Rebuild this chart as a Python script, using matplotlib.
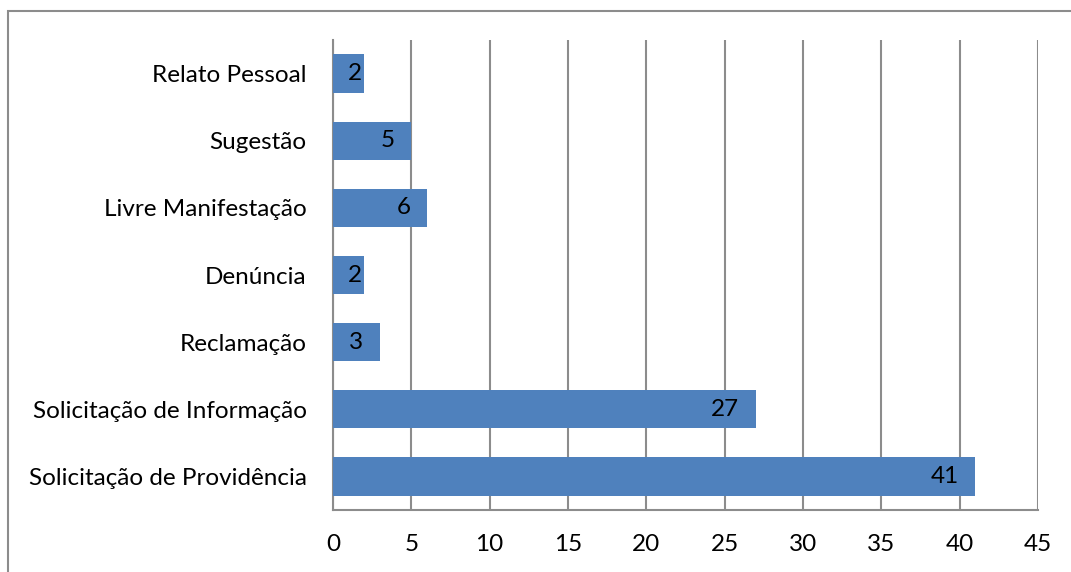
import matplotlib.pyplot as plt
from matplotlib.patches import Rectangle

# dados do grafico (de baixo para cima)
categorias = ['Solicitação de Providência', 'Solicitação de Informação', 'Reclamação',
              'Denúncia', 'Livre Manifestação', 'Sugestão', 'Relato Pessoal']
valores = [41, 27, 3, 2, 6, 5, 2]
ticks_x = [0, 5, 10, 15, 20, 25, 30, 35, 40, 45]

plt.rcParams['font.family'] = ['Lato', 'DejaVu Sans']

fig = plt.figure(figsize=(10.71, 5.72), dpi=100)
ax = fig.add_axes([333 / 1071, 1 - 510 / 572, (1038 - 333) / 1071, (510 - 40) / 572])

cor = '#4F81BD'
y = range(len(categorias))
barras = ax.barh(y, valores, height=0.57, color=cor, zorder=3)

# rotulos dentro da barra, alinhados a direita
for b, v in zip(barras, valores):
    desloc = -1.5 if v <= 2 else -12
    ax.annotate(str(v), (b.get_width(), b.get_y() + b.get_height() / 2),
                xytext=(desloc, 0), textcoords='offset points',
                ha='right', va='center', fontsize=17.5, color='black', zorder=4)

ax.set_xlim(0, 45)
ax.set_ylim(-0.5, len(categorias) - 0.5)
ax.set_xticks(ticks_x)
ax.set_yticks(list(y))
ax.set_yticklabels(categorias)
ax.tick_params(axis='both', length=0, labelsize=17.5, colors='black')
ax.tick_params(axis='x', pad=17)
ax.tick_params(axis='y', pad=19)

ax.grid(axis='x', color='#8c8c8c', linewidth=1.5, zorder=0)
for s in ['top', 'right']:
    ax.spines[s].set_visible(False)
for s in ['left', 'bottom']:
    ax.spines[s].set_color('#8c8c8c')
    ax.spines[s].set_linewidth(1.5)

# moldura do grafico
fig.patches.append(Rectangle((8 / 1071, -0.1), 1.2, 1 - 11 / 572 + 0.1,
                             transform=fig.transFigure, fill=False,
                             edgecolor='#8c8c8c', linewidth=1.5))

fig.savefig('out.png', dpi=100)
